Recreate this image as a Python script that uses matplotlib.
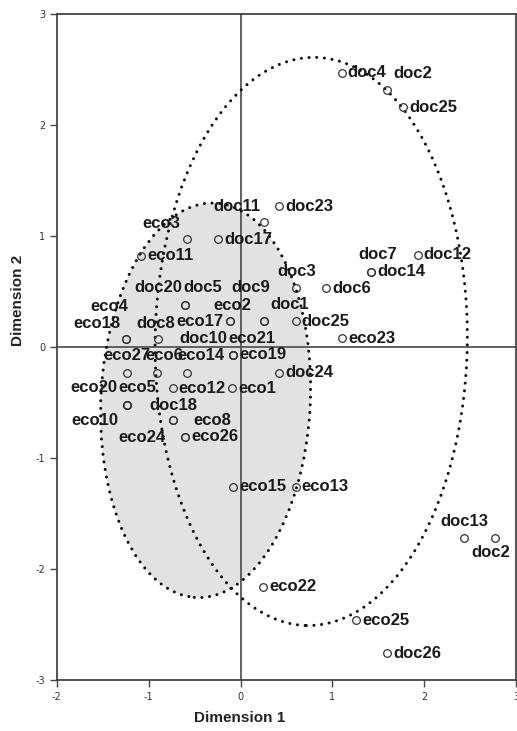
import matplotlib.pyplot as plt
from matplotlib.patches import Ellipse

plt.rcParams['axes.unicode_minus'] = False

# category points (dimension 1, dimension 2)
names = ['doc4', 'doc2', 'doc25', 'doc11', 'doc23', 'doc17', 'eco3', 'eco11',
         'doc12', 'doc14', 'doc7', 'doc6', 'doc3', 'doc20', 'doc5', 'eco2',
         'doc9', 'eco17', 'doc1', 'doc25', 'eco23', 'eco18', 'eco4', 'doc8',
         'doc10', 'eco21', 'eco19', 'eco27', 'eco6', 'eco14', 'doc24', 'eco12',
         'eco1', 'eco20', 'eco5', 'eco10', 'doc18', 'eco24', 'eco8', 'eco26',
         'eco15', 'eco13', 'doc13', 'doc2', 'eco22', 'eco25', 'doc26']
dim1 = [1.10, 1.60, 1.77, 0.26, 0.42, -0.24, -0.58, -1.08,
        1.93, 1.42, 1.42, 0.93, 0.60, -0.60, -0.60, -0.11,
        0.26, -0.11, 0.26, 0.60, 1.11, -1.25, -1.25, -0.90,
        -0.08, -0.08, -0.08, -1.24, -0.91, -0.58, 0.42, -0.74,
        -0.09, -1.24, -1.24, -1.24, -0.74, -0.74, -0.60, -0.60,
        -0.08, 0.60, 2.43, 2.77, 0.25, 1.26, 1.60]
dim2 = [2.47, 2.32, 2.16, 1.13, 1.27, 0.97, 0.97, 0.82,
        0.83, 0.68, 0.68, 0.53, 0.53, 0.38, 0.38, 0.23,
        0.23, 0.23, 0.23, 0.23, 0.08, 0.07, 0.07, 0.07,
        -0.07, -0.07, -0.07, -0.23, -0.23, -0.23, -0.23, -0.37,
        -0.37, -0.52, -0.52, -0.52, -0.66, -0.66, -0.81, -0.81,
        -1.26, -1.26, -1.72, -1.72, -2.16, -2.46, -2.76]

# label placement (ha, dx, dy in pixels)
R = ('left', 6, 0)
placement = [R, ('left', 6, 16), R, ('right', -4, 15), R, R, ('right', -7, 16), R,
             R, R, ('center', 7, 17), R, ('center', 1, 17), ('right', -3, 17),
             ('left', -2, 17), ('center', 2, 16),
             ('center', -14, 34), ('right', -7, 0), ('left', 6, 17), R, R,
             ('right', -5, 16), ('right', 3, 33), ('center', -2, 16),
             ('right', -6, 16), ('left', -5, 16), R, ('center', 0, 17),
             ('center', 7, 17), ('left', -10, 17), R, R,
             R, ('right', -9, 17), ('left', -8, 17), ('right', -8, -16),
             ('center', 1, 15), ('right', -7, -17), ('left', 8, 16), R,
             R, R, ('center', 1, 16), ('center', -4, -15), R, R, R]

fig = plt.figure(figsize=(5.17, 7.31), dpi=100)
ax = fig.add_axes([0.110, 0.0698, 0.888, 0.911])

# shaded ellipse and outer ellipse
inner = dict(xy=(-0.38, -0.48), width=2.28, height=3.56, angle=-4)
outer = dict(xy=(0.77, 0.05), width=3.40, height=5.12, angle=-1.2)
ax.add_patch(Ellipse(**inner, facecolor='#e2e2e2', edgecolor='none', zorder=1))
for e in (inner, outer):
    p = Ellipse(**e, fill=False, edgecolor='#111111', linewidth=2.2,
                linestyle=(0, (0.01, 2.5)), zorder=3)
    p.set_capstyle('round')
    ax.add_patch(p)

ax.axhline(0, color='#555555', lw=1.3, zorder=2)
ax.axvline(0, color='#555555', lw=1.3, zorder=2)

ax.plot(dim1, dim2, 'o', mfc='none', mec='#333333', ms=5.5, mew=0.9, zorder=4)

for n, x, y, (ha, dx, dy) in zip(names, dim1, dim2, placement):
    ax.annotate(n, (x, y), xytext=(dx, dy), textcoords='offset pixels',
                ha=ha, va='center', fontsize=12, fontweight='bold',
                family='Liberation Sans', color='#1a1a1a', zorder=5)

ax.set_xlim(-2, 3)
ax.set_ylim(-3, 3)
ax.set_xticks([-2, -1, 0, 1, 2, 3])
ax.set_yticks([-3, -2, -1, 0, 1, 2, 3])
ax.tick_params(direction='out', length=5, width=1, color='#444444',
               labelsize=7, labelcolor='#333333')
for s in ax.spines.values():
    s.set_color('#444444')
    s.set_linewidth(1.3)

fig.text(240 / 517, 1 - 718 / 731, 'Dimension 1', ha='center', va='center',
         fontsize=11, fontweight='bold', family='Liberation Sans', color='#222222')
fig.text(18 / 517, 1 - 300 / 731, 'Dimension 2', ha='center', va='center',
         rotation=90, fontsize=11, fontweight='bold', family='Liberation Sans',
         color='#222222')

fig.savefig('out.png', dpi=100)
